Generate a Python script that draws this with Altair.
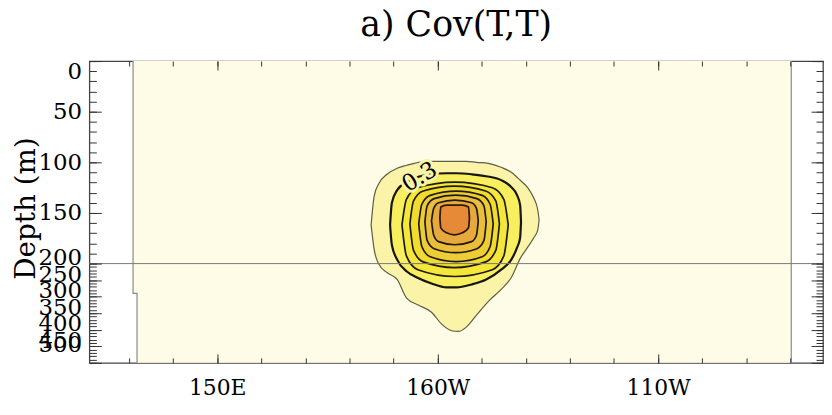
import altair as alt
import pandas as pd

# ---------------- text ----------------
title_text = "a) Cov(T,T)"
y_title = "Depth (m)"
contour_label = "0.3"

# ---------------- axes ----------------
x_label_values = [150, 200, 250]
x_label_texts = ["150E", "160W", "110W"]
x_tick_values = list(range(130, 290, 10))
y_label_upper = [0, 50, 100, 150]
y_label_lower = [200, 250, 300, 350, 400, 450, 500]
y_major_ticks = [0, 50, 100, 150, 200, 250, 300, 350, 400, 450, 500]
y_minor_ticks = list(range(0, 510, 10))

lon_domain = [121.0, 287.4]
depth_domain = [0, 200, 500]
depth_range = [0, 204, 304]

# ---------------- land / ocean ----------------
ocean_lon_w = [130.9, 131.8]
ocean_lon_e = [280.2, 280.2]
ocean_top = [0, 285]
ocean_bot = [290, 500]
coast_w_lon = [130.9, 130.9, 131.8, 131.8]
coast_w_depth = [0, 290, 290, 500]
coast_e_lon = [280.2, 280.2]
coast_e_depth = [0, 500]
ref_depth = [200]

# ---------------- contours (outer -> inner) ----------------
c1_lon = [184.9, 185.6, 186.7, 188.5, 190.8, 193.0, 195.7, 198.6, 200.9, 203.2, 204.7,
          206.5, 208.8, 211.5, 214.4, 216.7, 218.7, 220.5, 221.8, 222.7, 223.0]
c1_top = [161.8, 133.3, 120.6, 111.8, 105.9, 102.9, 100.0, 99.0, 99.0, 99.0, 99.0,
          99.0, 100.0, 101.0, 104.9, 109.8, 117.6, 125.5, 135.3, 147.1, 156.9]
c1_bot = [161.8, 186.3, 203, 227, 248, 305, 326, 347, 383, 403, 405,
          392, 356, 314, 278, 242, 195.1, 183.3, 174.5, 166.7, 156.9]

c2_lon = [189.2, 189.6, 190.8, 193.0, 195.3, 198.6, 202.0, 204.3, 207.7, 211.0, 214.4, 216.7, 218.0, 218.7, 218.9]
c2_top = [161.8, 140.2, 127.5, 119.6, 114.7, 111.8, 110.8, 110.8, 111.8, 113.7, 117.6, 124.5, 132.4, 142.2, 158.8]
c2_bot = [161.8, 181.4, 196.1, 224, 242, 260, 272, 272, 263, 248, 218, 196.1, 184.3, 174.5, 158.8]

c3_lon = [191.9, 192.9, 195.5, 203.9, 212.4, 215.0, 216.0]
c3_top = [161.8, 136.5, 125.1, 119.6, 125.1, 136.5, 161.8]
c3_bot = [161.8, 192.4, 218.6, 239, 218.6, 192.4, 161.8]

c4_lon = [193.7, 194.5, 196.7, 203.8, 210.9, 213.2, 214.0]
c4_top = [160.8, 138.4, 128.3, 123.5, 128.3, 138.4, 160.8]
c4_bot = [160.8, 186.7, 198.3, 212, 198.3, 186.7, 160.8]

c5_lon = [195.7, 196.4, 198.3, 204.2, 210.1, 211.9, 212.6]
c5_top = [160.8, 141.4, 132.6, 128.4, 132.6, 141.4, 160.8]
c5_bot = [160.8, 183.1, 193.2, 198.0, 193.2, 183.1, 160.8]

c6_lon = [197.1, 197.6, 199.2, 204.1, 208.9, 210.5, 211.0]
c6_top = [158.8, 142.9, 135.8, 132.4, 135.8, 142.9, 158.8]
c6_bot = [158.8, 177.1, 185.3, 189.2, 185.3, 177.1, 158.8]

c7_lon = [198.6, 199.1, 200.2, 203.9, 207.7, 208.8, 209.2]
c7_top = [157.8, 145.5, 139.9, 137.3, 139.9, 145.5, 157.8]
c7_bot = [157.8, 172.0, 178.3, 181.4, 178.3, 172.0, 157.8]

c8_lon = [200.5, 200.7, 202.0, 203.8, 205.6, 207.0, 207.2]
c8_top = [154.9, 144.1, 142.2, 142.2, 142.2, 144.1, 154.9]
c8_bot = [154.9, 164.7, 169.6, 171.6, 169.6, 164.7, 154.9]

label_lon = [195.9]
label_depth = [114.7]

contours = [
    (c1_lon, c1_top, c1_bot),
    (c2_lon, c2_top, c2_bot),
    (c3_lon, c3_top, c3_bot),
    (c4_lon, c4_top, c4_bot),
    (c5_lon, c5_top, c5_bot),
    (c6_lon, c6_top, c6_bot),
    (c7_lon, c7_top, c7_bot),
    (c8_lon, c8_top, c8_bot),
]
fill_colors = ["#FAF3A8", "#F7EF5E", "#F4E73A", "#F1DC2E", "#EDCD34", "#EABD3A", "#E7A93C", "#E68A38"]
stroke_colors = ["#5e5e44", "#161610", "#1e1a10", "#1e1a10", "#1e1a10", "#1e1a10", "#1e1a10", "#2a1a0a"]
stroke_widths = [1.2, 2.2, 1.7, 1.7, 1.7, 1.7, 1.7, 1.8]

ocean_color = "#FEFCE6"
serif = "DejaVu Serif"

xscale = alt.Scale(domain=lon_domain, nice=False, zero=False)
yscale = alt.Scale(domain=depth_domain, range=depth_range, nice=False, zero=False)

layers = []

ocean_df = pd.DataFrame({"lon1": ocean_lon_w, "lon2": ocean_lon_e, "d1": ocean_top, "d2": ocean_bot})
layers.append(alt.Chart(ocean_df).mark_rect(fill=ocean_color, strokeWidth=0).encode(
    x=alt.X("lon1:Q", scale=xscale, axis=None), x2="lon2:Q",
    y=alt.Y("d1:Q", scale=yscale, axis=None), y2="d2:Q"))

for clon, cdep in [(coast_w_lon, coast_w_depth), (coast_e_lon, coast_e_depth)]:
    cdf = pd.DataFrame({"lon": clon, "depth": cdep, "i": list(range(len(clon)))})
    layers.append(alt.Chart(cdf).mark_line(color="#8a8a8a", strokeWidth=1.2).encode(
        x=alt.X("lon:Q", scale=xscale, axis=None),
        y=alt.Y("depth:Q", scale=yscale, axis=None),
        order="i:Q"))

for (lon, top, bot), fc, sc, sw in zip(contours, fill_colors, stroke_colors, stroke_widths):
    df = pd.DataFrame({"lon": lon, "top": top, "bot": bot})
    layers.append(alt.Chart(df).mark_area(
        interpolate="monotone", orient="vertical", fill=fc, stroke=sc, strokeWidth=sw, opacity=1
    ).encode(
        x=alt.X("lon:Q", scale=xscale, axis=None),
        y=alt.Y("top:Q", scale=yscale, axis=None),
        y2="bot:Q"))

lab_df = pd.DataFrame({"lon": label_lon, "depth": label_depth, "t": [contour_label]})
for kw in [dict(fill=fill_colors[0], stroke=fill_colors[0], strokeWidth=6), dict(fill="black")]:
    layers.append(alt.Chart(lab_df).mark_text(
        font=serif, fontSize=23, angle=329, align="center", baseline="middle", **kw
    ).encode(
        x=alt.X("lon:Q", scale=xscale, axis=None),
        y=alt.Y("depth:Q", scale=yscale, axis=None),
        text="t:N"))

layers.append(alt.Chart(pd.DataFrame({"d": ref_depth})).mark_rule(color="#7a7a7a", strokeWidth=1).encode(
    y=alt.Y("d:Q", scale=yscale, axis=None)))

dummy = pd.DataFrame({"v": [250.0]})


def y_axis_layer(axis):
    return alt.Chart(dummy).mark_point(opacity=0).encode(y=alt.Y("v:Q", scale=yscale, axis=axis))


def x_axis_layer(axis):
    return alt.Chart(dummy).mark_point(opacity=0).encode(x=alt.X("v:Q", scale=xscale, axis=axis))


layers.append(y_axis_layer(alt.Axis(
    orient="left", values=y_label_upper, ticks=False, domain=False, grid=False,
    labelFlush=True, labelOverlap=False, labelPadding=8, labelFont=serif, labelFontSize=23,
    title=y_title, titleFont=serif, titleFontSize=28, titleFontWeight="normal", titleColor="black",
    titleX=-55, titleY=148, titleBaseline="alphabetic", titleAngle=270)))
layers.append(y_axis_layer(alt.Axis(
    orient="left", values=y_label_lower, ticks=False, domain=False, grid=False,
    labelFlush=True, labelOverlap=False, labelOffset=-6, labelPadding=8, labelFont=serif,
    labelFontSize=23, title=None)))
for orient in ["left", "right"]:
    for vals, size in [(y_major_ticks, 12), (y_minor_ticks, 7)]:
        layers.append(y_axis_layer(alt.Axis(
            orient=orient, values=vals, labels=False, domain=False, grid=False, ticks=True,
            tickSize=size, offset=-size, tickColor="#333333", tickWidth=1, zindex=1, title=None)))

label_expr = "{" + ",".join(f"'{v}':'{t}'" for v, t in zip(x_label_values, x_label_texts)) + "}[datum.value]"
layers.append(x_axis_layer(alt.Axis(
    orient="bottom", values=x_label_values, labelExpr=label_expr, ticks=False, domain=False,
    grid=False, labelPadding=15, labelFont=serif, labelFontSize=22, labelOverlap=False, title=None)))
for orient in ["bottom", "top"]:
    for vals, size in [(x_label_values, 9), (x_tick_values, 5)]:
        layers.append(x_axis_layer(alt.Axis(
            orient=orient, values=vals, labels=False, domain=False, grid=False, ticks=True,
            tickSize=size, offset=-size, tickColor="#333333", tickWidth=1, zindex=1, title=None)))

chart = alt.layer(*layers).resolve_axis(x="independent", y="independent").properties(
    width=739, height=304,
    title=alt.TitleParams(title_text, font=serif, fontSize=35, fontWeight="normal", color="black",
                          anchor="middle", frame="group", baseline="alphabetic", offset=21, dy=33),
    autosize=alt.AutoSizeParams(type="none"),
    padding={"left": 82, "top": 52, "right": 1, "bottom": 43},
).configure_view(stroke="#444444", strokeWidth=1.3, fill="white").configure_axis(
    labelColor="black", labelFont=serif)

chart.save("out.html", embed_options={"renderer": "svg", "actions": False})
